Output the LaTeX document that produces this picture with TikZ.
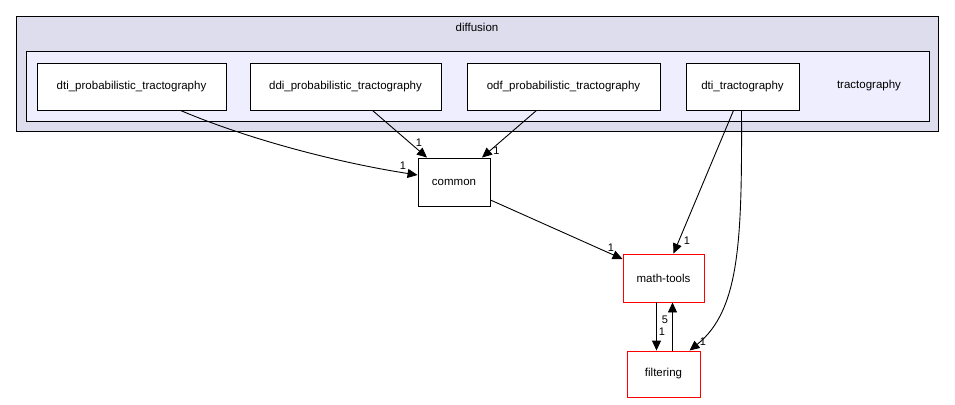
\documentclass[tikz,border=0pt]{standalone}
\usepackage{fontspec}
\setmainfont{Liberation Sans}
\usetikzlibrary{arrows.meta, positioning, calc}
\definecolor{outerfill}{HTML}{DDDDEE}
\definecolor{innerfill}{HTML}{EEEEFF}

\begin{document}
\begin{tikzpicture}[x=1pt, y=-1pt, line width=0.9pt, >={Triangle[length=10pt, width=9pt]},
    dirbox/.style={draw, fill=white, minimum height=47pt, inner sep=0pt, font=\fontsize{11.5}{13}\selectfont},
    redbox/.style={dirbox, draw=red},
    cnt/.style={font=\fontsize{11}{12}\selectfont, inner sep=1pt}]
    \useasboundingbox (0,0) rectangle (955,404);

    % Khung thư mục diffusion và tractography
    \draw[fill=outerfill] (16,16) rectangle (938,131);
    \node[font=\fontsize{11.5}{13}\selectfont] (diffusion) at (477,27) {diffusion};
    \draw[fill=innerfill] (26,51) rectangle (929,121);
    \node[font=\fontsize{11.5}{13}\selectfont] (tracto) at (869,86) {tractography};

    % Các thư mục con
    \node[dirbox, minimum width=189pt] (dtiprob) at (131.5,86.5) {dti\_probabilistic\_tractography};
    \node[dirbox, minimum width=191pt] (ddiprob) at (345.5,86.5) {ddi\_probabilistic\_tractography};
    \node[dirbox, minimum width=193pt] (odfprob) at (563.5,86.5) {odf\_probabilistic\_tractography};
    \node[dirbox, minimum width=113pt] (dtitract) at (742.5,86.5) {dti\_tractography};

    % Các thư mục bên ngoài
    \node[dirbox, minimum width=72pt, minimum height=48pt] (common) at (454,182) {common};
    \node[redbox, minimum width=81pt, minimum height=48pt] (mathtools) at (663.5,278) {math-tools};
    \node[redbox, minimum width=73pt, minimum height=46pt] (filtering) at (663.5,374) {filtering};

    % Các cạnh phụ thuộc
    \draw[->] ([xshift=49pt]dtiprob.south) .. controls (250,140) and (340,163) .. ([yshift=7pt]common.west)
        node[cnt, pos=1, above left=4pt and 10pt] {1};
    \draw[->] ([xshift=27pt]ddiprob.south) -- ([xshift=-27pt]common.north)
        node[cnt, pos=1, above=10pt, xshift=-8pt] {1};
    \draw[->] ([xshift=-27pt]odfprob.south) -- ([xshift=28pt]common.north)
        node[cnt, pos=1, above right=2pt and 10pt] {1};
    \draw[->] ([yshift=-18pt]common.east) -- ([yshift=19pt]mathtools.west)
        node[cnt, pos=1, above left=6pt and 7pt] {1};
    \draw[->] ([xshift=-9pt]dtitract.south) -- ([xshift=10pt]mathtools.north)
        node[cnt, pos=1, above right=8pt and 9pt] {1};
    \draw[->] ([xshift=-1pt]dtitract.south) .. controls (742,240) and (740,310) .. ([xshift=26pt]filtering.north)
        node[cnt, pos=1, above right=4pt and 9pt] {1};
    \draw[->] ([xshift=-7pt]mathtools.south) -- ([xshift=-7pt]filtering.north)
        node[cnt, pos=1, above right=14pt and 1pt] {1};
    \draw[->] ([xshift=9pt]filtering.north) -- ([xshift=9pt]mathtools.south)
        node[cnt, pos=1, below left=12pt and 3pt] {5};
\end{tikzpicture}
\end{document}
